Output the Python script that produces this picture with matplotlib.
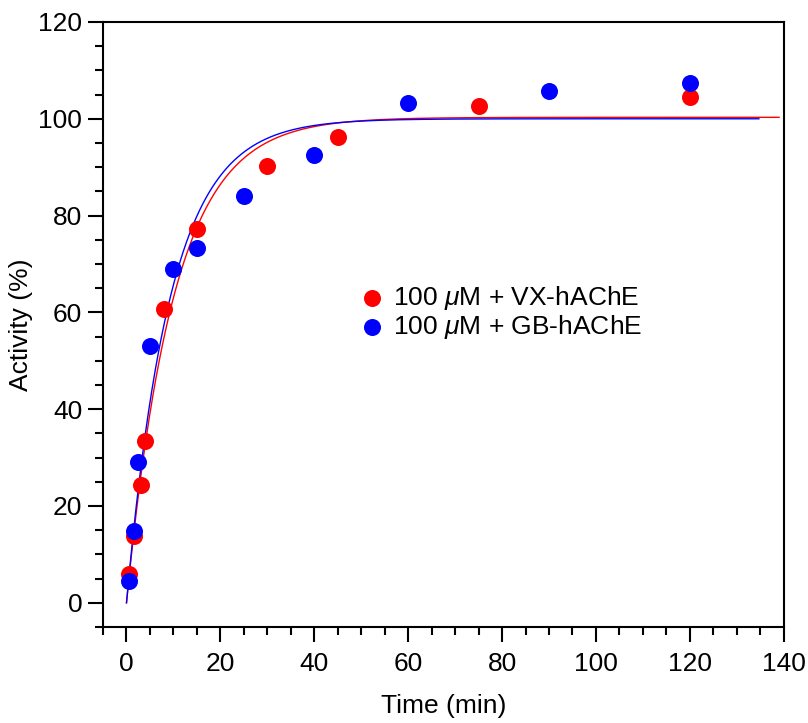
import numpy as np
import matplotlib
matplotlib.use('Agg')
import matplotlib.pyplot as plt
from matplotlib.ticker import MultipleLocator

plt.rcParams['font.family'] = ['Liberation Sans', 'DejaVu Sans']
plt.rcParams['mathtext.fontset'] = 'custom'
plt.rcParams['mathtext.rm'] = 'Liberation Sans'
plt.rcParams['mathtext.it'] = 'Liberation Sans:italic'

# measured points
vx_time = [0.5, 1.5, 3, 4, 8, 15, 30, 45, 75, 120]
vx_activity = [6.0, 13.7, 24.3, 33.4, 60.7, 77.3, 90.3, 96.2, 102.7, 104.5]
gb_time = [0.5, 1.5, 2.5, 5, 10, 15, 25, 40, 60, 90, 120]
gb_activity = [4.5, 14.8, 29.1, 53.1, 69.0, 73.3, 84.0, 92.5, 103.2, 105.8, 107.3]

# single-exponential fit parameters (plateau, rate constant, last time)
vx_fit = (100.3, 0.099, 139)
gb_fit = (100.0, 0.107, 134.7)

fig = plt.figure(figsize=(8.08, 7.23), dpi=100)
ax = fig.add_axes([0.1275, 0.1328, 0.8425, 0.8368])

for (plateau, k, t_end), col in [(vx_fit, 'red'), (gb_fit, 'blue')]:
    t = np.linspace(0, t_end, 400)
    ax.plot(t, plateau * (1 - np.exp(-k * t)), color=col, lw=1.0, zorder=2)

ax.scatter(vx_time, vx_activity, s=150, color='red', linewidths=0, zorder=3,
           label=r'100 $\mu$M + VX-hAChE')
ax.scatter(gb_time, gb_activity, s=150, color='blue', linewidths=0, zorder=4,
           label=r'100 $\mu$M + GB-hAChE')

ax.set_xlim(-5, 140)
ax.set_ylim(-5, 120)
ax.xaxis.set_major_locator(MultipleLocator(20))
ax.xaxis.set_minor_locator(MultipleLocator(5))
ax.yaxis.set_major_locator(MultipleLocator(20))
ax.yaxis.set_minor_locator(MultipleLocator(5))
ax.tick_params(which='major', direction='out', length=11, width=1.5,
               labelsize=19, pad=4)
ax.tick_params(axis='x', which='major', pad=7)
ax.tick_params(which='minor', direction='out', length=5.5, width=1.5)
for sp in ax.spines.values():
    sp.set_linewidth(1.5)

ax.set_xlabel('Time (min)', fontsize=19, labelpad=13)
ax.set_ylabel('Activity (%)', fontsize=19, labelpad=4)

ax.legend(loc='upper left', bbox_to_anchor=(0.36, 0.585), frameon=False,
          fontsize=19, handletextpad=0.3, labelspacing=0.05,
          borderaxespad=0, handlelength=1.0)

fig.savefig('out.png', dpi=100)
